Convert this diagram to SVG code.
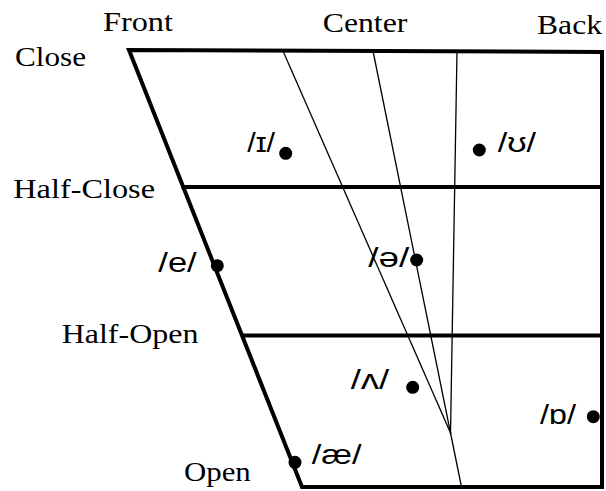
<svg xmlns="http://www.w3.org/2000/svg" width="606" height="491" viewBox="0 0 606 491">
<style>
.axis{font-family:"Liberation Serif","Times New Roman",serif;font-size:27px;fill:#000}
.ipa{font-family:"Liberation Sans","DejaVu Sans",Arial,sans-serif;font-size:28px;fill:#000}
.thick{stroke:#000;stroke-width:4;fill:none;stroke-linecap:square}
.thin{stroke:#000;stroke-width:1.3;fill:none}
.dot{fill:#000}
</style>
<rect width="606" height="491" fill="#fff"/>
<g id="axis-labels">
<text class="axis" x="103" y="31" textLength="70" lengthAdjust="spacingAndGlyphs">Front</text>
<text class="axis" x="322.7" y="32" textLength="84.7" lengthAdjust="spacingAndGlyphs">Center</text>
<text class="axis" x="537" y="34" textLength="65" lengthAdjust="spacingAndGlyphs">Back</text>
<text class="axis" x="15" y="66" textLength="71" lengthAdjust="spacingAndGlyphs">Close</text>
<text class="axis" x="13.3" y="198.3" textLength="141.7" lengthAdjust="spacingAndGlyphs">Half-Close</text>
<text class="axis" x="61.7" y="343.3" textLength="136.7" lengthAdjust="spacingAndGlyphs">Half-Open</text>
<text class="axis" x="184" y="480.5" textLength="66.7" lengthAdjust="spacingAndGlyphs">Open</text>
</g>
<g id="connectors">
<polyline class="thick" points="602,52 129,50 302,487 602,487 602,52" stroke-linejoin="miter"/>
<line class="thick" x1="183.5" y1="187" x2="602" y2="187"/>
<line class="thick" x1="243" y1="335.5" x2="602" y2="335.5"/>
<line class="thin" x1="283" y1="51" x2="451" y2="434"/>
<line class="thin" x1="373" y1="51" x2="461.5" y2="487"/>
<line class="thin" x1="457" y1="51" x2="450.5" y2="434"/>
</g>
<g id="vowel-i">
<circle class="dot" cx="285.7" cy="153.3" r="6.5"/>
<text class="ipa" x="247.3" y="152.3" textLength="27.7" lengthAdjust="spacingAndGlyphs">/ɪ/</text>
</g>
<g id="vowel-u">
<circle class="dot" cx="479.3" cy="150" r="6.5"/>
<text class="ipa" x="497.7" y="151.7" textLength="38.3" lengthAdjust="spacingAndGlyphs">/ʊ/</text>
</g>
<g id="vowel-e">
<circle class="dot" cx="217.3" cy="265.7" r="6.5"/>
<text class="ipa" x="158.3" y="272.3" textLength="38.4" lengthAdjust="spacingAndGlyphs">/e/</text>
</g>
<g id="vowel-schwa">
<circle class="dot" cx="416.7" cy="260" r="6.5"/>
<text class="ipa" x="368.3" y="266.7" textLength="41" lengthAdjust="spacingAndGlyphs">/ə/</text>
</g>
<g id="vowel-wedge">
<circle class="dot" cx="412.7" cy="387.3" r="6.5"/>
<text class="ipa" x="350.7" y="389.3" textLength="38.6" lengthAdjust="spacingAndGlyphs">/ʌ/</text>
</g>
<g id="vowel-o">
<circle class="dot" cx="593.3" cy="416.7" r="6.5"/>
<text class="ipa" x="540" y="424" textLength="36" lengthAdjust="spacingAndGlyphs">/ɒ/</text>
</g>
<g id="vowel-ae">
<circle class="dot" cx="295" cy="462.3" r="6.5"/>
<text class="ipa" x="311.7" y="464.3" textLength="50" lengthAdjust="spacingAndGlyphs">/æ/</text>
</g>
</svg>
